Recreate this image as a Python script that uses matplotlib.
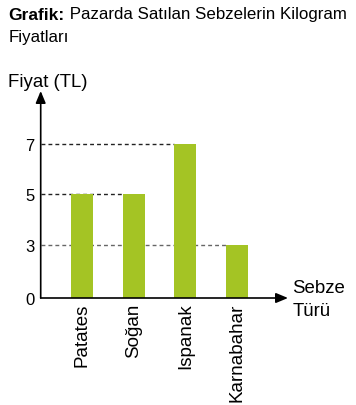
import numpy as np
import matplotlib
matplotlib.use("Agg")
import matplotlib.pyplot as plt

plt.rcParams['font.family'] = ['Liberation Sans', 'DejaVu Sans']

categories = ["Patates", "Soğan", "Ispanak", "Karnabahar"]
prices = [5, 5, 7, 3]
ytick_values = [0, 3, 5, 7]
ref_lines = [7, 5, 3]

W, H = 356, 406
fig = plt.figure(figsize=(W / 100, H / 100), dpi=100)

def fx(px):
    return px / W

def fy(py):
    return 1 - py / H

ax = fig.add_axes([fx(40.7), fy(299), fx(288) - fx(40.7), fy(92) - fy(299)])

# piecewise-linear y scale (0..3 compressed as in the original drawing)
k = 0.698
knots_v = np.array([-100.0, 0.0, 3.0, 100.0])
knots_p = np.array([-100.0 * k, 0.0, 3 * k, 3 * k + 97.0])

def fwd(v):
    return np.interp(v, knots_v, knots_p)

def inv(p):
    return np.interp(p, knots_p, knots_v)

ax.set_yscale('function', functions=(fwd, inv))

x = np.arange(len(categories))
bw = 0.425
bar_color = '#a4c424'
ax.bar(x, prices, width=bw, color=bar_color, zorder=3)

ax.set_xlim(-0.799, 3.986)
ax.set_ylim(0, 9.09)

x0 = ax.get_xlim()[0]
line_colors = {7: '#222222', 5: '#222222', 3: '#666666'}
for v in ref_lines:
    idx = max(i for i, p in enumerate(prices) if p == v)
    ax.hlines(v, x0, idx - bw / 2, colors=line_colors[v], linestyles=(0, (2.8, 2.2)),
              lw=1.0, zorder=2)

for s in ax.spines.values():
    s.set_visible(False)

ax.set_yticks(ytick_values)
ax.set_yticklabels([str(v) for v in ytick_values])
ax.set_xticks(x)
ax.set_xticklabels(categories, rotation=90)
ax.tick_params(axis='y', length=0, pad=4.5, labelsize=12, colors='black')
ax.tick_params(axis='x', length=0, pad=3, labelsize=13.5, colors='black')
ax.minorticks_off()
ax.yaxis.set_minor_locator(matplotlib.ticker.NullLocator())

arrow = dict(arrowstyle='-|>,head_length=0.6,head_width=0.25', color='black',
             lw=1.2, mutation_scale=12, shrinkA=0, shrinkB=0)
ax.annotate('', xy=(0, 1), xytext=(0, 0), xycoords='axes fraction',
            textcoords='axes fraction', arrowprops=arrow, annotation_clip=False)
ax.annotate('', xy=(1, 0), xytext=(0, 0), xycoords='axes fraction',
            textcoords='axes fraction', arrowprops=arrow, annotation_clip=False)

# title
t1 = fig.text(fx(8.5), fy(19.5), "Grafik:", fontsize=12.5, fontweight='bold',
              ha='left', va='baseline')
fig.canvas.draw()
ax.annotate(" Pazarda Satılan Sebzelerin Kilogram", xy=(1, 0), xycoords=t1,
            ha='left', va='bottom', fontsize=12.2)
fig.text(fx(8.5), fy(41.7), "Fiyatları", fontsize=12.2, ha='left', va='baseline')

fig.text(fx(8.5), fy(87.3), "Fiyat (TL)", fontsize=13.4, ha='left', va='baseline')
fig.text(fx(292.5), fy(292.7), "Sebze", fontsize=13.4, ha='left', va='baseline')
fig.text(fx(292.5), fy(316), "Türü", fontsize=13.4, ha='left', va='baseline')

fig.savefig("out.png", dpi=100)
